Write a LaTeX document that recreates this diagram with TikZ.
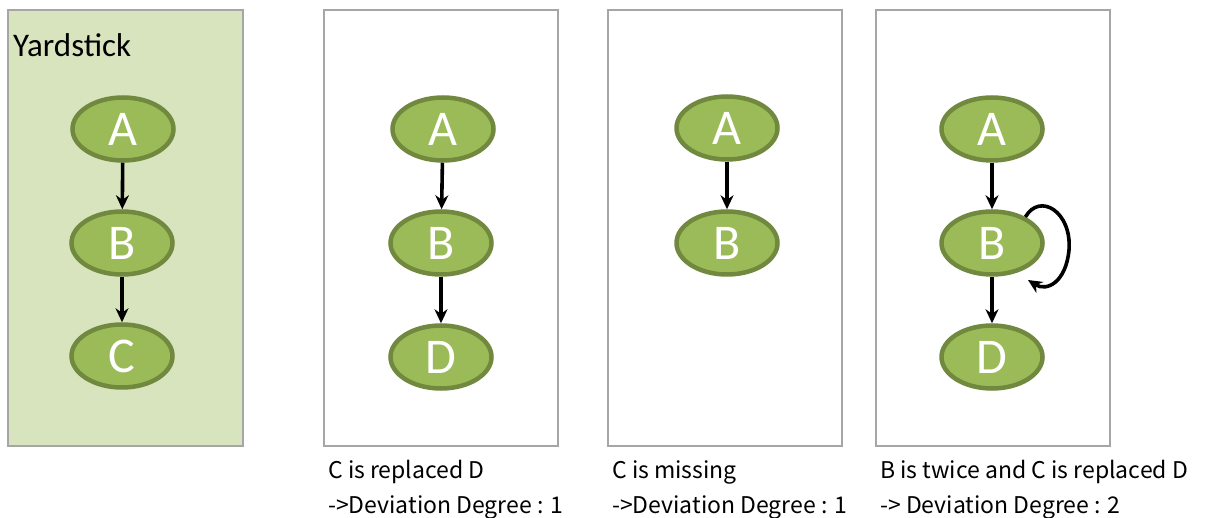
\documentclass[tikz,border=0pt]{standalone}
\usepackage{fontspec}
\setmainfont{Carlito}
\newfontfamily\jpfont{Noto Sans CJK JP}
\usetikzlibrary{shapes.geometric,arrows.meta}
\definecolor{nodefill}{HTML}{9BBB59}
\definecolor{nodeline}{HTML}{71893F}
\definecolor{panelfill}{HTML}{D7E4BD}
\definecolor{panelline}{HTML}{A6A6A6}
\tikzset{
  gnode/.style={ellipse,draw=nodeline,fill=nodefill,line width=4.5pt,
    minimum width=101pt,minimum height=63pt,inner sep=0pt,
    text=white,font=\fontsize{50}{50}\selectfont},
  panel/.style={draw=panelline,line width=2.5pt},
  edge/.style={-{Stealth[length=14pt,width=13pt]},line width=3.6pt,black},
  caption/.style={anchor=north west,align=left,inner sep=0pt,
    font=\jpfont\fontsize{23}{35}\selectfont}
}
\begin{document}
\begin{tikzpicture}[x=1pt,y=-1pt]
\useasboundingbox (0,0) rectangle (1223,518);
% panels
\draw[panel,fill=panelfill] (8,10) rectangle (243,446);
\draw[panel] (324,10) rectangle (558,446);
\draw[panel] (608,10) rectangle (842,446);
\draw[panel] (876,10) rectangle (1110,446);
\node[anchor=west,inner sep=0pt,font=\fontsize{33}{33}\selectfont] (ys) at (13,45) {Yardstick};
% panel 1
\node[gnode] (a1) at (123,129) {A};
\node[gnode] (b1) at (122,243) {B};
\node[gnode] (c1) at (122,356) {C};
\draw[edge] (a1) -- (b1);
\draw[edge] (b1) -- (c1);
% panel 2
\node[gnode] (a2) at (443,129) {A};
\node[gnode] (b2) at (441,243) {B};
\node[gnode] (d2) at (441,357) {D};
\draw[edge] (a2) -- (b2);
\draw[edge] (b2) -- (d2);
% panel 3
\node[gnode] (a3) at (727,128) {A};
\node[gnode] (b3) at (727,243) {B};
\draw[edge] (a3) -- (b3);
% panel 4
\node[gnode] (a4) at (992,129) {A};
\node[gnode] (b4) at (992,243) {B};
\node[gnode] (d4) at (992,357) {D};
\draw[edge] (a4) -- (b4);
\draw[edge] (b4) -- (d4);
\draw[edge] (b4.38) .. controls (1040,192) and (1072,212) .. (1069,250) .. controls (1066,282) and (1047,292) .. (1028,280);
% captions
\node[caption] (t2) at (328,460) {C is replaced D\\->Deviation Degree : 1};
\node[caption] (t3) at (612,460) {C is missing\\->Deviation Degree : 1};
\node[caption] (t4) at (880,460) {B is twice and C is replaced D\\-> Deviation Degree : 2};
\end{tikzpicture}
\end{document}
